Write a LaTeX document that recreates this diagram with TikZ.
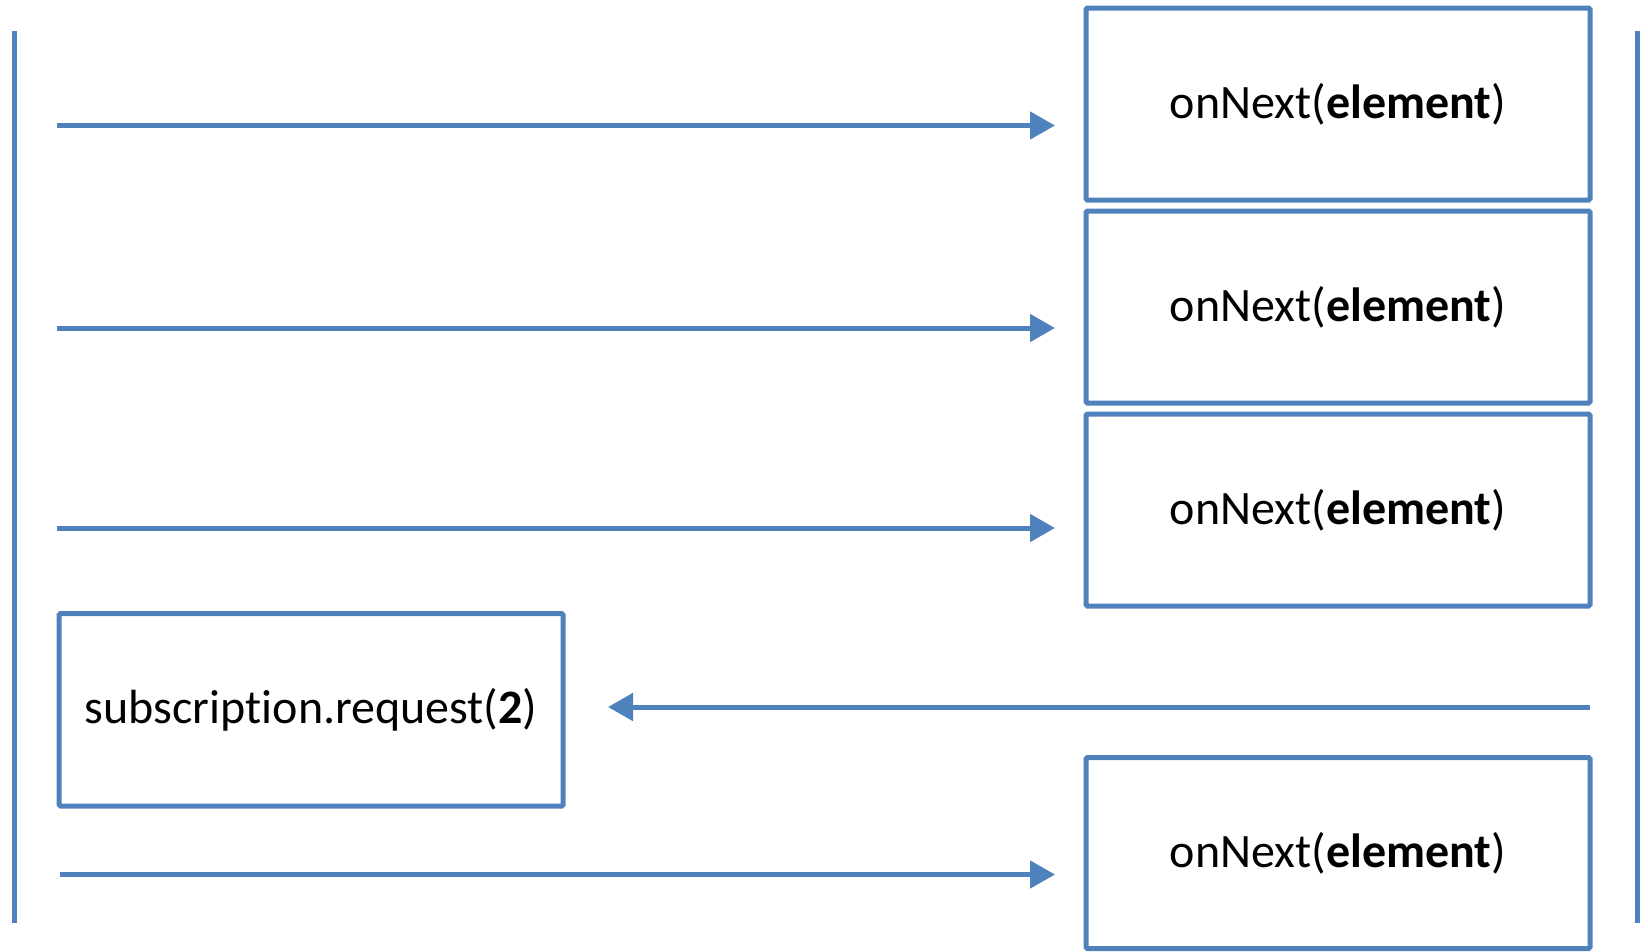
\documentclass[tikz,border=0pt]{standalone}
\usepackage{fontspec}
\setmainfont[Ligatures=NoCommon]{Carlito}
\usetikzlibrary{arrows.meta}
\definecolor{lineblue}{HTML}{4F81BD}
\tikzset{
  lifeline/.style={draw=lineblue, line width=5pt},
  callbox/.style={draw=lineblue, line width=5pt, fill=white, rectangle,
    rounded corners=1.5pt, inner sep=0pt,
    font=\fontsize{48}{56}\selectfont},
  msg/.style={draw=lineblue, line width=5pt,
    -{Triangle[length=25pt,width=27pt]}},
}
\begin{document}
\begin{tikzpicture}[x=1pt,y=-1pt]
  \useasboundingbox (0,0) rectangle (1648,951);
  % lifelines of the two parties
  \coordinate (ltop) at (14,31);
  \coordinate (lbot) at (14,923);
  \coordinate (rtop) at (1637,31);
  \coordinate (rbot) at (1637,923);
  \draw[lifeline] (ltop) -- (lbot);
  \draw[lifeline] (rtop) -- (rbot);
  % calls on the subscriber side
  \node[callbox, minimum width=504pt, minimum height=192pt] (n1) at (1338,104) {onNext(\textbf{element})};
  \node[callbox, minimum width=504pt, minimum height=192pt] (n2) at (1338,307) {onNext(\textbf{element})};
  \node[callbox, minimum width=504pt, minimum height=192pt] (n3) at (1338,510) {onNext(\textbf{element})};
  \node[callbox, minimum width=504pt, minimum height=191pt] (n4) at (1338,853) {onNext(\textbf{element})};
  \node[callbox, minimum width=504pt, minimum height=192.5pt] (req) at (311.2,709.8) {subscription.request(\textbf{2})};
  % message ends
  \coordinate (s1) at (57,125.5);  \coordinate (t1) at (1055,125.5);
  \coordinate (s2) at (57,328);  \coordinate (t2) at (1055,328);
  \coordinate (s3) at (57,528);  \coordinate (t3) at (1055,528);
  \coordinate (s4) at (60,874.5); \coordinate (t4) at (1055,874.5);
  \coordinate (rs) at (1590,707); \coordinate (rt) at (608,707);
  \draw[msg] (s1) -- (t1);
  \draw[msg] (s2) -- (t2);
  \draw[msg] (s3) -- (t3);
  \draw[msg] (s4) -- (t4);
  \draw[msg] (rs) -- (rt);
\end{tikzpicture}
\end{document}
